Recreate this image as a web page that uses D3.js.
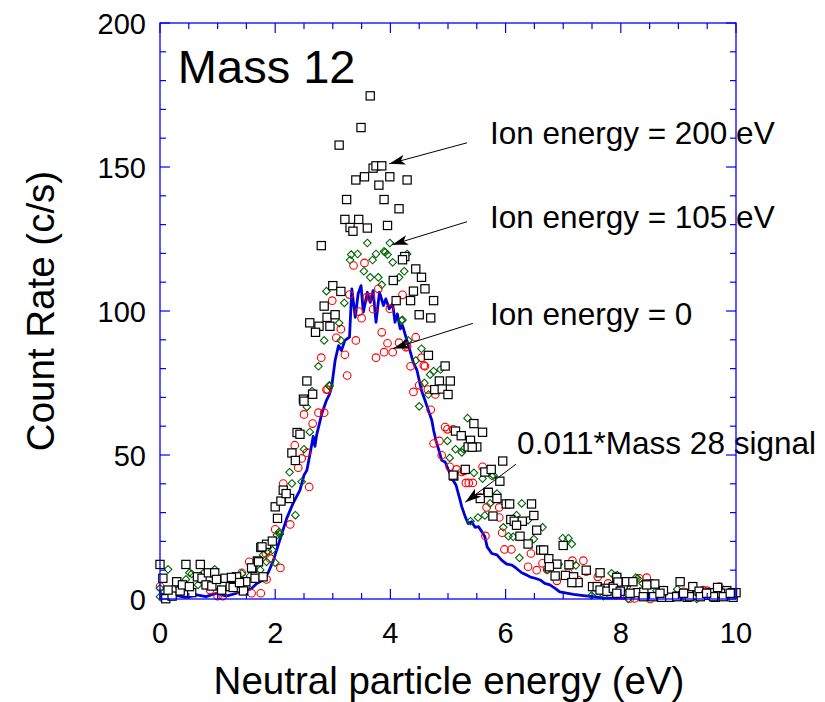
<!DOCTYPE html>
<html>
<head>
<meta charset="utf-8">
<script src="https://cdn.jsdelivr.net/npm/d3@7"></script>
<style>
  html, body { margin: 0; padding: 0; background: #fff; }
  svg { display: block; font-family: "Liberation Sans", Arial, sans-serif; }
</style>
</head>
<body>
<div id="chart"></div>
<script>
// ion energy = 200 eV (black squares)
const ion200 = [
  [3.65,174.7],[3.49,163.7],[3.11,157.6],[3.70,149.6],[3.75,150.4],[3.85,150.4],[3.40,145.5],[3.55,146.6],
  [3.99,146.6],[4.29,145.5],[3.80,143.7],[3.24,138.7],[3.89,138.7],[4.15,135.5],[3.21,131.8],[3.45,131.8],
  [3.30,129.0],[3.35,127.7],[3.60,128.8],[3.95,129.7],[2.80,122.7],[4.25,118.9],[4.21,117.8],[4.44,114.6],
  [4.54,111.7],[4.05,110.6],[3.00,108.8],[3.14,106.8],[4.40,106.9],[4.60,107.7],[4.75,103.6],[4.35,103.6],
  [4.10,103.6],[2.85,101.7],[2.90,97.8],[3.04,98.7],[4.50,98.7],[4.70,97.6],[2.60,95.9],[2.76,94.7],
  [2.95,94.7],[2.70,92.6],[4.66,84.6],[2.55,75.7],[2.65,71.1],[2.49,69.4],
  [4.95,80.9],[4.85,75.7],[5.04,75.7],[4.77,72.7],[4.90,72.9],[5.00,71.0],[5.45,60.9],[5.60,57.9],
  [5.13,58.3],[5.23,56.7],[5.39,55.1],[5.35,52.8],[5.50,52.8],[5.30,45.0],[5.10,42.7],[5.64,44.1],
  [5.95,47.9],[5.42,52.7],[5.90,40.9],[5.69,37.0],[5.85,34.9],[5.56,34.9],[6.01,33.0],[6.07,33.0],
  [6.45,33.0],[5.78,28.8],[6.09,27.6],[6.15,27.0],[6.29,27.0],[6.49,29.0],[6.19,25.6],[6.54,23.9],
  [6.25,21.8],[6.39,19.1],[6.61,17.0],[6.66,17.0],[7.00,18.6],[6.75,14.0],[6.89,12.1],[7.10,11.9],
  [6.76,11.2],[6.86,8.0],[7.04,8.2],[7.18,7.7],[7.40,10.0],[7.26,5.7],[7.15,5.7],[7.51,4.3],
  [7.59,4.3],[7.73,3.7],[7.93,7.5],[7.87,4.3],[8.07,6.0],[8.04,4.3],[5.09,43.0],[5.75,45.0],[5.70,37.0],
  [7.64,9.1],[7.95,5.9],[8.10,6.0],[8.21,6.0],[8.49,5.2],[8.59,5.2],[9.03,6.0],[9.25,4.3],
  [9.84,2.9],[8.29,2.2],[8.55,0.8],[8.71,0.6],[8.85,0.6],[8.98,1.0],[9.15,0.6],[9.32,1.3],
  [9.55,2.2],[9.64,0.6],[9.73,2.0],[9.95,0.6],[10.0,2.2],[9.36,2.7],[9.48,1.3],[7.64,3.1],
  [7.76,2.7],[7.87,3.7],[7.99,2.7],[8.40,2.4],[8.74,2.9],[8.45,4.9],[9.68,4.0],[9.94,2.2],
  [8.39,0.8],[8.97,0.8],[9.19,0.8],[9.38,0.8],[9.61,0.8],[9.78,0.8],[7.93,2.0],[8.16,2.0],
  [8.68,2.0],[9.09,2.0],[9.49,2.0],[9.90,2.0],
  [0.00,12.0],[0.45,12.0],[0.70,12.0],[0.05,7.2],[0.10,0.1],[0.21,1.0],[0.14,3.1],[0.29,6.0],
  [0.35,2.8],[0.39,4.9],[0.55,2.2],[0.51,4.3],[0.65,7.7],[0.73,7.2],[0.80,4.9],[0.84,9.1],
  [0.90,4.5],[0.95,9.1],[0.98,6.8],[1.13,7.2],[1.07,3.1],[1.22,4.3],[1.33,7.7],[1.39,5.4],
  [1.49,6.0],[1.45,2.8],[1.65,7.2],[1.61,10.6],[1.69,13.2],[1.75,17.9],[1.79,7.7],[1.85,19.0],
  [1.95,20.1],[2.04,28.0],[2.00,32.0],[2.10,34.0],[2.25,34.9],[2.14,37.8],[2.19,36.6],[2.38,57.8],
  [2.43,57.2],[2.29,50.7],[2.35,48.1],[2.50,68.7],[1.27,4.0],[1.38,5.7],[1.24,7.5],[1.59,10.8],
  [1.71,12.9],[1.77,18.1]
];

// ion energy = 105 eV (green diamonds)
const ion105 = [
  [3.60,123.6],[3.99,123.6],[3.32,119.6],[3.43,119.8],[3.75,119.8],[3.89,120.7],[3.95,119.6],[4.29,119.8],
  [3.30,117.7],[3.69,117.7],[3.54,113.8],[3.65,111.7],[3.79,111.7],[4.04,116.9],[4.24,113.8],[4.15,111.7],
  [3.85,109.1],[2.89,106.9],[3.20,102.8],[4.21,96.9],[3.91,120.4],[3.11,95.8],[2.85,89.8],[3.14,89.8],
  [2.75,80.8],[4.19,96.7],[4.54,86.9],[4.44,82.8],[4.59,75.0],[2.94,73.9],[2.64,72.2],[4.31,89.8],
  [4.75,79.1],[4.69,77.9],[4.87,79.7],[4.66,71.0],[4.50,66.9],[5.34,62.8],[4.99,54.9],[5.13,52.0],
  [5.24,50.9],[5.27,52.0],[5.03,49.0],[5.45,43.8],[5.76,42.7],[5.60,41.8],[5.79,42.9],[5.85,36.6],
  [5.73,33.2],[6.28,33.2],[5.64,29.0],[5.52,28.3],[5.39,27.0],[6.19,29.1],[6.39,27.4],[5.96,24.9],
  [6.05,21.8],[6.13,21.6],[6.64,24.9],[6.49,20.8],[6.99,21.1],[7.09,21.1],[7.15,19.1],[6.24,14.3],
  [6.92,12.1],[7.22,11.7],[7.84,8.9],[7.91,8.0],[7.49,1.2],[6.72,10.1],[7.94,8.3],[8.29,7.2],
  [8.38,5.4],[8.98,3.4],[7.76,3.7],[9.32,0.0],[8.13,0.0],[7.70,1.0],[8.26,7.4],[8.62,2.9],
  [0.14,10.3],[0.00,0.8],[0.06,2.2],[0.51,9.1],[0.55,8.7],[0.45,6.8],[0.66,4.9],[0.75,8.9],
  [0.95,10.3],[1.04,3.4],[1.20,6.8],[1.42,8.9],[1.56,8.0],[1.74,10.1],[1.79,15.3],[1.85,12.9],
  [1.95,17.0],[2.03,22.2],[2.07,23.3],[2.35,29.1],[2.25,44.0],[2.29,40.1],[2.46,40.7],[0.32,4.3],
  [0.00,3.7],[1.50,4.3],[2.60,58.0],[2.50,52.0],[2.55,66.7],[2.08,22.5],[2.00,12.6],[1.87,16.7],[2.94,74.2]
];

// ion energy = 0 (red circles)
const ion0 = [
  [3.36,115.8],[3.55,116.7],[2.99,103.6],[3.14,93.7],[3.29,105.7],[3.45,99.8],[3.50,97.5],[3.59,104.8],
  [3.66,104.8],[3.70,100.6],[3.79,107.7],[3.99,100.8],[4.21,105.6],[3.85,92.6],[3.95,88.8],[3.89,85.7],
  [4.04,85.7],[3.75,83.8],[4.15,89.0],[4.29,87.7],[3.40,89.8],[3.06,90.7],[3.21,84.8],[2.80,83.8],
  [3.25,77.6],[4.54,83.8],[4.35,80.8],[4.60,80.8],[4.50,74.2],[4.40,71.9],[2.89,72.7],[4.44,90.9],
  [4.27,87.4],[4.58,81.1],[4.65,72.7],[4.78,71.0],[4.70,65.7],[4.95,59.7],[4.99,58.9],[5.09,58.9],
  [4.85,54.9],[4.75,54.0],[4.89,49.9],[5.03,45.9],[5.15,45.0],[5.24,44.1],[5.60,45.9],[5.28,44.5],
  [5.31,40.3],[5.36,40.3],[5.43,40.3],[5.56,35.3],[5.67,31.8],[5.89,31.8],[5.89,28.3],[5.94,23.0],
  [5.65,21.9],[5.98,17.2],[6.10,17.2],[6.44,15.8],[6.39,11.2],[6.54,10.0],[6.72,10.3],[6.64,12.4],
  [7.16,13.3],[7.35,13.3],[7.09,9.1],[7.40,9.5],[7.60,7.7],[7.26,6.6],[7.78,5.4],[8.10,4.3],
  [7.99,1.4],[6.89,6.3],[8.32,7.2],[8.45,7.4],[9.09,2.5],[9.43,3.1],[9.71,4.3],[10.0,2.0],
  [8.16,0.2],[8.51,0.0],[8.74,3.1],[7.93,7.2],[8.24,0.2],[9.50,2.9],
  [2.91,72.7],[2.75,64.7],[2.85,64.7],[2.50,64.1],[2.65,60.9],[2.34,53.4],[2.46,48.8],[2.55,50.8],
  [2.40,45.6],[2.59,38.9],[2.14,40.1],[2.26,25.9],[2.00,24.2],[1.91,14.1],[1.55,12.9],[2.09,10.8],
  [1.85,6.8],[1.59,2.0],[1.75,2.0],[1.42,9.1],[1.84,15.8],[0.00,4.3],[1.00,1.0],[1.09,1.0],
  [1.38,3.1],[0.87,3.1],[0.06,0.2]
];

// 0.011 * mass 28 signal (blue line)
const mass28 = [
  [0.00,2.0],[0.15,0.8],[0.30,1.2],[0.45,0.6],[0.64,1.4],[0.80,0.8],[0.98,2.0],[1.15,1.0],
  [1.33,2.0],[1.50,3.1],[1.58,3.5],[1.68,5.4],[1.79,6.6],[1.88,9.2],[1.97,13.5],[2.08,20.5],
  [2.20,28.0],[2.31,33.2],[2.43,37.8],[2.50,43.0],[2.55,44.7],[2.62,52.0],[2.66,56.5],[2.69,53.0],
  [2.72,57.0],[2.81,64.4],[2.89,69.0],[2.94,71.0],[2.98,73.6],[3.04,82.8],[3.10,88.0],[3.15,86.3],
  [3.21,89.8],[3.29,90.9],[3.33,107.7],[3.39,97.8],[3.44,106.0],[3.49,108.8],[3.53,99.6],[3.60,106.5],
  [3.65,103.0],[3.70,107.1],[3.75,96.1],[3.81,106.5],[3.88,101.9],[3.92,104.2],[3.98,100.8],[4.04,102.5],
  [4.08,96.1],[4.12,99.0],[4.17,93.8],[4.21,95.0],[4.27,90.9],[4.33,86.9],[4.40,82.0],[4.46,79.5],
  [4.54,72.4],[4.60,69.0],[4.66,65.5],[4.72,62.0],[4.75,58.6],[4.79,55.1],[4.85,51.1],[4.89,48.2],
  [4.95,47.6],[5.01,44.7],[5.08,41.5],[5.14,39.5],[5.21,34.3],[5.24,32.0],[5.30,28.5],[5.35,26.2],
  [5.41,26.8],[5.47,24.9],[5.53,25.1],[5.59,23.3],[5.64,21.6],[5.68,18.1],[5.76,15.8],[5.85,15.3],
  [5.93,13.5],[6.02,12.1],[6.11,11.8],[6.19,10.6],[6.28,9.1],[6.37,8.3],[6.42,7.7],[6.51,7.2],
  [6.60,6.6],[6.68,5.4],[6.77,4.9],[6.86,3.7],[6.94,2.5],[7.06,2.0],[7.18,1.6],[7.35,1.2],
  [7.52,0.8],[7.70,0.4],[7.90,0.3],[8.10,0.3]
];

const xTicks = [0, 2, 4, 6, 8, 10];
const yTicks = [0, 50, 100, 150, 200];

// label text, text anchor point and arrow (from -> to), in data units
const notes = [
  { text: "Ion energy = 200 eV", x: 5.73, y: 158.0, from: [5.33,158.4], to: [3.98,151.1] },
  { text: "Ion energy = 105 eV", x: 5.73, y: 128.9, from: [5.33,131.0], to: [4.03,123.0] },
  { text: "Ion energy = 0",      x: 5.73, y: 95.3,  from: [5.43,95.7],  to: [4.05,87.0] },
  { text: "0.011*Mass 28 signal", x: 6.20, y: 50.3, from: [6.18,46.8],  to: [5.30,33.6] }
];

const width = 825, height = 702;
const pLeft = 160, pRight = 736, pTop = 23, pBottom = 599;

const svg = d3.select("#chart").append("svg")
  .attr("width", width)
  .attr("height", height);

const x = d3.scaleLinear().domain([0, 10]).range([pLeft, pRight]);
const y = d3.scaleLinear().domain([0, 200]).range([pBottom, pTop]);

// tick labels
svg.append("g").selectAll("text").data(xTicks).join("text")
  .attr("x", d => x(d)).attr("y", pBottom + 44)
  .attr("text-anchor", "middle")
  .style("font-size", "29px")
  .text(d => d);

svg.append("g").selectAll("text").data(yTicks).join("text")
  .attr("x", pLeft - 14).attr("y", d => y(d) + 10.5)
  .attr("text-anchor", "end")
  .style("font-size", "29px")
  .text(d => d);

// axis titles
svg.append("text")
  .attr("x", (pLeft + pRight) / 2 + 1).attr("y", 694)
  .attr("text-anchor", "middle")
  .style("font-size", "38.5px")
  .text("Neutral particle energy (eV)");

svg.append("text")
  .attr("transform", "translate(54," + ((pTop + pBottom) / 2) + ") rotate(-90)")
  .attr("text-anchor", "middle")
  .style("font-size", "38.5px")
  .text("Count Rate (c/s)");

// mass 28 line
const line = d3.line().x(d => x(d[0])).y(d => y(d[1]));
svg.append("path")
  .datum(mass28)
  .attr("d", line)
  .style("fill", "none")
  .style("stroke", "#0000dd")
  .style("stroke-width", 2.8)
  .style("stroke-linejoin", "round");

// red circles
svg.append("g").selectAll("circle").data(ion0).join("circle")
  .attr("cx", d => x(d[0])).attr("cy", d => y(d[1]))
  .attr("r", 3.8)
  .style("fill", "none").style("stroke", "#ff0000").style("stroke-width", 1.1);

// green diamonds
const dm = 3.8;
svg.append("g").selectAll("path").data(ion105).join("path")
  .attr("d", d => {
    const cx = x(d[0]), cy = y(d[1]);
    return `M${cx},${cy - dm}L${cx + dm},${cy}L${cx},${cy + dm}L${cx - dm},${cy}Z`;
  })
  .style("fill", "none").style("stroke", "#006600").style("stroke-width", 1.1);

// black squares
const sq = 8.2;
svg.append("g").selectAll("rect").data(ion200).join("rect")
  .attr("x", d => x(d[0]) - sq / 2).attr("y", d => y(d[1]) - sq / 2)
  .attr("width", sq).attr("height", sq)
  .style("fill", "white").style("stroke", "#000").style("stroke-width", 1.2);

// arrows
svg.append("defs").append("marker")
  .attr("id", "head")
  .attr("viewBox", "0 0 16 10")
  .attr("refX", 16).attr("refY", 5)
  .attr("markerWidth", 16).attr("markerHeight", 10)
  .attr("markerUnits", "userSpaceOnUse")
  .attr("orient", "auto")
  .append("path")
  .attr("d", "M0,0 L16,5 L0,10 L4,5 Z")
  .style("fill", "#000");

svg.append("g").selectAll("line").data(notes).join("line")
  .attr("x1", d => x(d.from[0])).attr("y1", d => y(d.from[1]))
  .attr("x2", d => x(d.to[0])).attr("y2", d => y(d.to[1]))
  .style("stroke", "#000").style("stroke-width", 1)
  .attr("marker-end", "url(#head)");

svg.append("g").selectAll("text").data(notes).join("text")
  .attr("x", d => x(d.x)).attr("y", d => y(d.y))
  .style("font-size", "31.5px")
  .text(d => d.text);

svg.append("text")
  .attr("x", x(0.31)).attr("y", y(179.2))
  .style("font-size", "47px")
  .text("Mass 12");

// frame and ticks drawn last, over the labels
svg.append("rect")
  .attr("x", pLeft).attr("y", pTop)
  .attr("width", pRight - pLeft).attr("height", pBottom - pTop)
  .style("fill", "none").style("stroke", "#0000ff").style("stroke-width", 1.3);

const minorX = d3.range(0, 10.01, 0.5);
const minorY = d3.range(0, 200.1, 10);
const tk = svg.append("g").style("stroke", "#0000ff").style("stroke-width", 1.2);
minorX.forEach(v => {
  const len = (Math.abs(v % 2) < 1e-6) ? 10 : 6;
  tk.append("line").attr("x1", x(v)).attr("x2", x(v)).attr("y1", pBottom).attr("y2", pBottom - len);
  tk.append("line").attr("x1", x(v)).attr("x2", x(v)).attr("y1", pTop).attr("y2", pTop + len);
});
minorY.forEach(v => {
  const len = (Math.abs(v % 50) < 1e-6) ? 10 : 6;
  tk.append("line").attr("x1", pLeft).attr("x2", pLeft + len).attr("y1", y(v)).attr("y2", y(v));
  tk.append("line").attr("x1", pRight).attr("x2", pRight - len).attr("y1", y(v)).attr("y2", y(v));
});
</script>
</body>
</html>
